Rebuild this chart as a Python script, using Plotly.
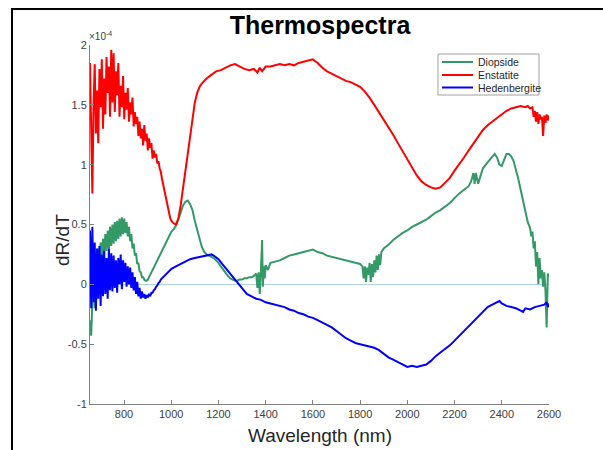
import plotly.graph_objects as go

# ---------------- data (values in units of 1e-4) ----------------
ens_wl = [656, 661, 666, 671, 676, 681, 686, 691, 696, 701, 706, 711, 716, 721, 726, 731, 736, 741, 746, 751,
          756, 761, 766, 771, 776, 781, 786, 791, 796, 801, 806, 811, 816, 821, 826, 831, 836, 841, 846, 851,
          856, 861, 866, 871, 876, 881, 886, 891, 896, 901, 906, 911, 916, 921, 926, 931, 936, 941, 946, 951,
          956, 961, 966, 971, 976, 981, 986, 991, 996, 1001,
          1010, 1020, 1030, 1040, 1050, 1060, 1070, 1080, 1090, 1100, 1110, 1120, 1130, 1140, 1150, 1170, 1190,
          1210, 1230, 1250, 1270, 1290, 1310, 1330, 1350, 1365, 1375, 1385, 1400, 1420, 1440, 1460, 1480, 1500,
          1520, 1540, 1560, 1580, 1600, 1620, 1640, 1660, 1680, 1700, 1720, 1740, 1760, 1780, 1800, 1820, 1840,
          1860, 1880, 1900, 1920, 1940, 1960, 1980, 2000, 2020, 2040, 2060, 2080, 2100, 2120, 2140, 2160, 2180,
          2200, 2220, 2240, 2260, 2280, 2300, 2320, 2340, 2360, 2380, 2400, 2420, 2440, 2460, 2480, 2500, 2510,
          2520, 2530, 2535, 2540, 2545, 2550, 2555, 2560, 2565, 2570, 2575, 2580, 2585, 2590, 2595, 2600]
ens_val = [1.85, 1.22, 0.76, 1.50, 1.84, 1.26, 1.62, 1.18, 1.80, 1.48, 1.88, 1.30, 1.72, 1.42, 1.90, 1.60, 1.82, 1.40, 1.96, 1.52,
           1.93, 1.44, 1.78, 1.58, 1.85, 1.40, 1.66, 1.48, 1.74, 1.38, 1.60, 1.46, 1.64, 1.36, 1.52, 1.42, 1.56, 1.32, 1.44, 1.34,
           1.40, 1.24, 1.36, 1.22, 1.30, 1.16, 1.33, 1.20, 1.26, 1.12, 1.22, 1.14, 1.18, 1.05, 1.12, 1.06, 1.09, 1.01, 1.03, 0.97,
           0.94, 0.88, 0.83, 0.78, 0.72, 0.67, 0.62, 0.58, 0.55, 0.53,
           0.51, 0.50, 0.55, 0.66, 0.80, 0.95, 1.10, 1.25, 1.40, 1.52, 1.60, 1.65, 1.68, 1.70, 1.72, 1.75, 1.78,
           1.79, 1.81, 1.83, 1.84, 1.82, 1.80, 1.79, 1.80, 1.77, 1.81, 1.78, 1.82, 1.82, 1.83, 1.84, 1.83, 1.84,
           1.83, 1.85, 1.86, 1.87, 1.88, 1.85, 1.81, 1.78, 1.76, 1.74, 1.72, 1.70, 1.69, 1.67, 1.65, 1.61, 1.56,
           1.50, 1.44, 1.38, 1.31, 1.25, 1.18, 1.11, 1.04, 0.97, 0.91, 0.86, 0.83, 0.81, 0.80, 0.81, 0.85, 0.89,
           0.95, 1.00, 1.06, 1.12, 1.18, 1.24, 1.29, 1.33, 1.36, 1.39, 1.42, 1.45, 1.47, 1.48, 1.49, 1.48, 1.49,
           1.47, 1.48, 1.40, 1.45, 1.36, 1.44, 1.34, 1.42, 1.38, 1.40, 1.24, 1.41, 1.35, 1.42, 1.37, 1.41]

dio_wl = [656, 661, 666, 671, 676, 681, 686, 691, 696, 701, 706, 711, 716, 721, 726, 731, 736, 741, 746, 751,
          756, 761, 766, 771, 776, 781, 786, 791, 796, 801, 806, 811, 816, 821, 826, 831, 836, 841, 846, 851,
          856, 861, 866, 871, 876, 881, 886, 891, 896, 901, 906, 911, 916, 921, 926, 931, 936, 941, 946, 951,
          956, 961, 966, 971, 976, 981, 986, 991, 996, 1001,
          1010, 1020, 1030, 1040, 1050, 1060, 1070, 1080, 1090, 1100, 1110, 1120, 1130, 1140, 1150, 1160, 1170,
          1180, 1190, 1200, 1210, 1220, 1230, 1240, 1250, 1260, 1270, 1280, 1290, 1300, 1310, 1320, 1330, 1340,
          1350, 1360, 1365, 1370, 1375, 1380, 1385, 1388, 1392, 1396, 1400, 1410, 1420, 1440, 1460, 1480, 1500,
          1520, 1540, 1560, 1580, 1600, 1620, 1640, 1660, 1680, 1700, 1720, 1740, 1760, 1780, 1800, 1810, 1815,
          1820, 1825, 1830, 1835, 1840, 1845, 1850, 1855, 1860, 1865, 1870, 1875, 1880, 1885, 1890, 1900, 1920,
          1940, 1960, 1980, 2000, 2020, 2040, 2060, 2080, 2100, 2120, 2140, 2160, 2180, 2200, 2220, 2240, 2260,
          2270, 2280, 2285, 2290, 2300, 2310, 2320, 2340, 2360, 2370, 2380, 2390, 2400, 2410, 2420, 2430, 2440,
          2450, 2460, 2470, 2480, 2490, 2500, 2510, 2520, 2525, 2530, 2535, 2540, 2545, 2550, 2555, 2560, 2565,
          2570, 2575, 2580, 2585, 2590, 2595, 2600]
dio_val = [-0.30, -0.43, -0.15, 0.10, -0.20, 0.25, 0.05, 0.30, 0.15, 0.35, 0.20, 0.38, 0.25, 0.42, 0.28, 0.45, 0.30, 0.48, 0.32, 0.50,
           0.34, 0.52, 0.36, 0.53, 0.38, 0.55, 0.40, 0.56, 0.42, 0.55, 0.43, 0.52, 0.40, 0.48, 0.36, 0.42, 0.30, 0.34, 0.24, 0.26,
           0.17, 0.18, 0.11, 0.10, 0.06, 0.06, 0.04, 0.03, 0.03, 0.04, 0.06, 0.08, 0.10, 0.12, 0.14, 0.16, 0.18, 0.20, 0.22, 0.24,
           0.26, 0.28, 0.30, 0.32, 0.34, 0.36, 0.38, 0.40, 0.42, 0.44,
           0.46, 0.49, 0.54, 0.60, 0.66, 0.69, 0.70, 0.67, 0.62, 0.53, 0.45, 0.38, 0.31, 0.27, 0.25, 0.24, 0.23,
           0.22, 0.20, 0.18, 0.15, 0.12, 0.09, 0.07, 0.05, 0.04, 0.03, 0.03, 0.04, 0.04, 0.05, 0.05, 0.06, 0.06,
           0.07, 0.09, -0.03, 0.10, -0.08, 0.12, 0.37, -0.02, 0.15, 0.05, 0.16, 0.12, 0.18, 0.19, 0.20, 0.22, 0.24,
           0.25, 0.26, 0.27, 0.28, 0.29, 0.27, 0.26, 0.24, 0.23, 0.22, 0.21, 0.20, 0.19, 0.18, 0.17, 0.15, 0.05,
           0.15, 0.02, 0.14, 0.08, 0.18, 0.02, 0.17, 0.06, 0.20, 0.10, 0.24, 0.12, 0.25, 0.16, 0.27, 0.30, 0.33,
           0.37, 0.40, 0.43, 0.45, 0.48, 0.50, 0.52, 0.54, 0.57, 0.60, 0.62, 0.65, 0.68, 0.72, 0.76, 0.79, 0.82,
           0.86, 0.93, 0.84, 0.93, 0.84, 0.90, 0.97, 1.02, 1.07, 1.09, 1.06, 1.00, 0.99, 1.05, 1.09, 1.09, 1.07,
           1.03, 0.96, 0.88, 0.79, 0.70, 0.61, 0.52, 0.47, 0.40, 0.44, 0.30, 0.36, 0.15, 0.27, 0.00, 0.22, 0.05,
           0.12, -0.02, 0.10, -0.05, -0.36, 0.09, 0.06]

hed_wl = [656, 661, 666, 671, 676, 681, 686, 691, 696, 701, 706, 711, 716, 721, 726, 731, 736, 741, 746, 751,
          756, 761, 766, 771, 776, 781, 786, 791, 796, 801, 806, 811, 816, 821, 826, 831, 836, 841, 846, 851,
          856, 861, 866, 871, 876, 881, 886, 891, 896, 901, 906, 911, 916, 921, 926, 931, 936, 941, 946, 951,
          956, 961, 966, 971, 976, 981, 986, 991, 996, 1001,
          1020, 1040, 1060, 1080, 1100, 1120, 1140, 1160, 1170, 1180, 1200, 1220, 1240, 1260, 1280, 1300, 1320,
          1340, 1360, 1380, 1400, 1420, 1440, 1460, 1480, 1500, 1520, 1540, 1560, 1580, 1600, 1620, 1640, 1660,
          1680, 1700, 1720, 1740, 1760, 1780, 1800, 1820, 1840, 1860, 1880, 1900, 1920, 1940, 1960, 1980, 2000,
          2020, 2040, 2060, 2080, 2100, 2120, 2140, 2160, 2180, 2200, 2220, 2240, 2260, 2280, 2300, 2320, 2340,
          2360, 2380, 2390, 2400, 2420, 2440, 2460, 2480, 2490, 2500, 2520, 2540, 2560, 2580, 2590, 2595, 2600]
hed_val = [0.45, -0.20, 0.48, -0.15, 0.35, -0.22, 0.30, -0.12, 0.32, -0.18, 0.25, -0.10, 0.28, -0.08, 0.22, -0.12, 0.30, -0.05, 0.26, -0.06,
           0.24, -0.03, 0.20, -0.07, 0.22, 0.00, 0.25, -0.04, 0.20, 0.02, 0.18, -0.02, 0.15, 0.00, 0.14, -0.03, 0.10, -0.05, 0.06, -0.08,
           0.02, -0.10, -0.03, -0.12, -0.06, -0.11, -0.08, -0.12, -0.09, -0.11, -0.08, -0.10, -0.07, -0.07, -0.05, -0.04, -0.02, -0.01, 0.01, 0.02,
           0.04, 0.05, 0.06, 0.07, 0.08, 0.09, 0.10, 0.11, 0.12, 0.13,
           0.15, 0.17, 0.19, 0.21, 0.22, 0.23, 0.24, 0.25, 0.25, 0.24, 0.21, 0.16, 0.11, 0.06, 0.01, -0.04, -0.08,
           -0.10, -0.12, -0.13, -0.15, -0.16, -0.17, -0.18, -0.19, -0.21, -0.22, -0.24, -0.25, -0.27, -0.28, -0.30, -0.32, -0.34,
           -0.36, -0.39, -0.42, -0.45, -0.47, -0.49, -0.50, -0.51, -0.52, -0.53, -0.55, -0.58, -0.61, -0.63, -0.65, -0.67, -0.69,
           -0.68, -0.69, -0.68, -0.67, -0.64, -0.60, -0.57, -0.54, -0.51, -0.47, -0.43, -0.39, -0.35, -0.31, -0.27, -0.23, -0.19,
           -0.17, -0.15, -0.14, -0.16, -0.18, -0.19, -0.20, -0.22, -0.23, -0.20, -0.21, -0.19, -0.18, -0.17, -0.15, -0.19, -0.16]

series_names = ["Diopside", "Enstatite", "Hedenbergite"]
x_ticks = [800, 1000, 1200, 1400, 1600, 1800, 2000, 2200, 2400, 2600]
y_ticks = [-1, -0.5, 0, 0.5, 1, 1.5, 2]
y_tick_labels = ["-1", "-0.5", "0", "0.5", "1", "1.5", "2"]

GREEN = "#339966"
RED = "#ff0000"
BLUE = "#0000ff"
COLORS = [GREEN, RED, BLUE]
FONT = "Liberation Sans, Arial, Helvetica, sans-serif"

# plot area in pixels
PL, PR, PT, PB = 90, 549, 45, 404
W, H = 603, 450


def px(x):
    return (x - PL) / (PR - PL)


def py(y):
    return (PB - y) / (PB - PT)


fig = go.Figure()
for name, xs, ys, col in zip(series_names, [dio_wl, ens_wl, hed_wl], [dio_val, ens_val, hed_val], COLORS):
    fig.add_trace(go.Scatter(x=xs, y=ys, mode="lines", name=name,
                             line=dict(color=col, width=2), showlegend=False))

axis_col = "#808080"
fig.update_layout(
    width=W, height=H,
    margin=dict(l=PL, r=W - PR, t=PT, b=H - PB),
    paper_bgcolor="white", plot_bgcolor="white",
    font=dict(family=FONT, color="#404040"),
    title=dict(text="<b>Thermospectra</b>", x=320 / W, xanchor="center",
               y=1 - 25 / H, yanchor="middle", font=dict(size=25, color="black", family=FONT)),
    showlegend=False,
    xaxis=dict(range=[656, 2600], tickvals=x_ticks, ticktext=[str(v) for v in x_ticks],
               showgrid=False, zeroline=False, showline=True, linecolor=axis_col, linewidth=1,
               ticks="inside", ticklen=4, tickcolor=axis_col, tickfont=dict(size=11, color="#404040")),
    yaxis=dict(range=[-1, 2], tickvals=y_ticks, ticktext=y_tick_labels,
               showgrid=False, zeroline=True, zerolinecolor="#b0d4e6", zerolinewidth=1,
               showline=True, linecolor=axis_col, linewidth=1,
               ticks="inside", ticklen=4, tickcolor=axis_col, tickfont=dict(size=11, color="#404040")),
)

# axis titles
fig.add_annotation(text="Wavelength (nm)", xref="paper", yref="paper", x=px(320), y=py(435),
                   xanchor="center", yanchor="middle", showarrow=False,
                   font=dict(size=19, color="#262626", family=FONT))
fig.add_annotation(text="dR/dT", xref="paper", yref="paper", x=px(62), y=py(240),
                   xanchor="center", yanchor="middle", showarrow=False, textangle=-90,
                   font=dict(size=19, color="#262626", family=FONT))

# exponent
fig.add_annotation(text="×10<sup>-4</sup>", xref="paper", yref="paper",
                   x=px(87), y=py(44), xanchor="left", yanchor="bottom", showarrow=False,
                   font=dict(size=10, color="#404040", family=FONT))

# legend box (drawn manually for compact MATLAB look)
fig.add_shape(type="rect", xref="paper", yref="paper", x0=px(438), x1=px(539), y0=py(95), y1=py(54),
              line=dict(color="#a0a0a0", width=1), fillcolor="white", layer="above")
rows = [62, 75, 87.5]
for name, col, ry in zip(series_names, COLORS, rows):
    fig.add_shape(type="line", xref="paper", yref="paper", x0=px(442), x1=px(473), y0=py(ry), y1=py(ry),
                  line=dict(color=col, width=2), layer="above")
    fig.add_annotation(text=name, xref="paper", yref="paper", x=px(476), y=py(ry),
                       xanchor="left", yanchor="middle", showarrow=False,
                       font=dict(size=10.5, color="#262626", family=FONT))

# figure frame: top and left edges drawn inside the figure
fig.add_shape(type="line", xref="paper", yref="paper",
              x0=px(12), x1=px(603), y0=py(9), y1=py(9),
              line=dict(color="black", width=2), layer="above")
fig.add_shape(type="line", xref="paper", yref="paper",
              x0=px(12), x1=px(12), y0=py(8), y1=py(450),
              line=dict(color="black", width=2), layer="above")

post = """
document.documentElement.style.margin='0px';
document.body.style.margin='0px';
"""
fig.write_html("out.html", config={"displayModeBar": False}, post_script=post)
